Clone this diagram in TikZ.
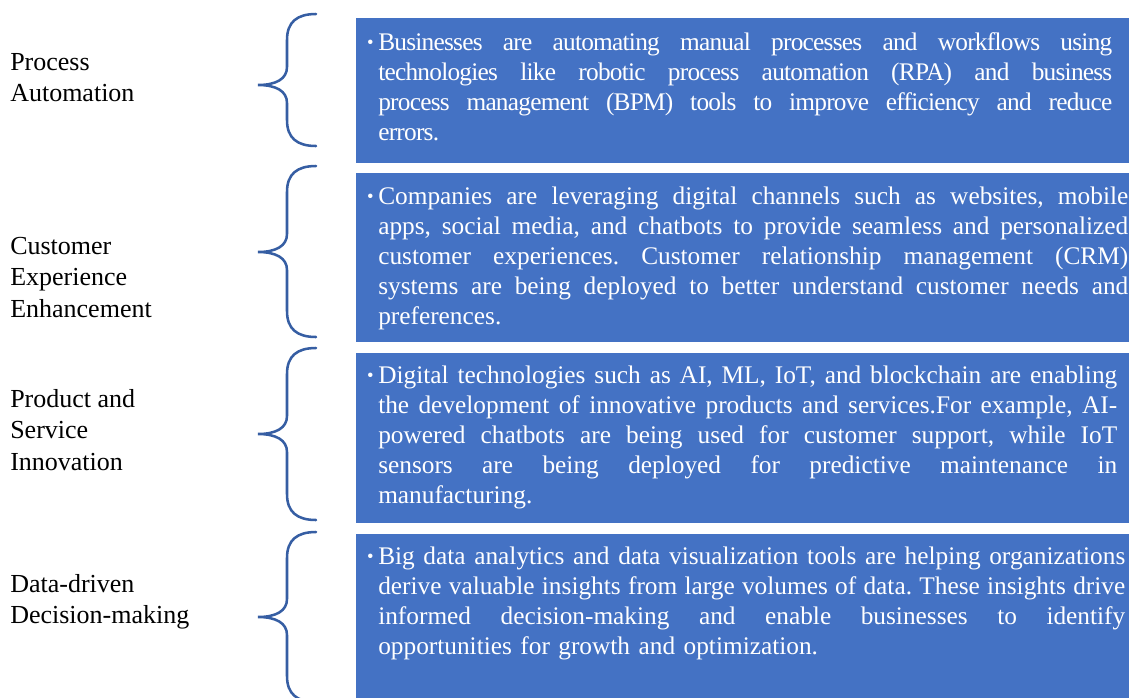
\documentclass[tikz,border=0pt]{standalone}
\usepackage{fontspec}
\setmainfont{Liberation Serif}
\newfontfamily\serree[LetterSpace=-3]{Liberation Serif}

\definecolor{bleucadre}{HTML}{4472C4}
\definecolor{bleuaccol}{RGB}{54,94,163}

\tikzset{
  cadre/.style={fill=bleucadre},
  accol/.style={draw=bleuaccol, line width=1.9pt, line cap=round},
  etiq/.style={anchor=north west, inner sep=0pt, align=left,
    font=\fontsize{19.5}{23.6}\selectfont},
  texte/.style={anchor=north west, inner sep=0pt, text=white,
    text width=#1, execute at begin node={\def\largeur{#1}},
    font=\fontsize{19}{22.5}\selectfont\frenchspacing},
  serre/.style={font=\serree\fontsize{19}{22.5}\selectfont\frenchspacing}
}

\def\ligne#1{\leavevmode\hbox to \largeur{\spaceskip=\fontdimen2\font plus 1fil\relax #1}\par}
\def\puce{\llap{\raisebox{1.5pt}{\fontsize{14}{14}\selectfont\textbullet}\hspace{3.5pt}}}

\begin{document}
\begin{tikzpicture}[x=0.75pt, y=-0.75pt]
\useasboundingbox (0,0) rectangle (1129,697);

% Cadres bleus
\fill[cadre] (356,18) rectangle (1135,163);
\fill[cadre] (356,173) rectangle (1135,342);
\fill[cadre] (356,353) rectangle (1135,523);
\fill[cadre] (356,534) rectangle (1135,705);

% Accolades
\def\accolade#1#2#3{%
  \draw[accol] (316,#1) .. controls (297,#1) and (287,#1+8) .. (287,#1+26)
    -- (287,#2-18) .. controls (287,#2-6) and (276,#2) .. (258,#2)
    .. controls (276,#2) and (287,#2+6) .. (287,#2+18)
    -- (287,#3-26) .. controls (287,#3-8) and (297,#3) .. (316,#3);}
\accolade{14}{85}{146}
\accolade{166}{252}{337}
\accolade{348}{434}{520}
\accolade{532}{617}{702}

% Etiquettes
\node[etiq] (lab1) at (10,48) {\strut Process\\Automation};
\node[etiq] (lab2) at (10,232) {\strut Customer\\Experience\\Enhancement};
\node[etiq] (lab3) at (10,385) {\strut Product and\\Service\\Innovation};
\node[etiq] (lab4) at (10,570) {\strut Data-driven\\Decision-making};

% Textes
\node[texte=550.5pt, serre] (box1) at (378,29) {\strut\puce
  \ligne{Businesses are automating manual processes and workflows using}
  \ligne{technologies like robotic process automation (RPA) and business}
  \ligne{process management (BPM) tools to improve efficiency and reduce}
  errors.};
\node[texte=562.5pt] (box2) at (378,183) {\strut\puce
  \ligne{Companies are leveraging digital channels such as websites, mobile}
  \ligne{apps, social media, and chatbots to provide seamless and personalized}
  \ligne{customer experiences. Customer relationship management (CRM)}
  \ligne{systems are being deployed to better understand customer needs and}
  preferences.};
\node[texte=554.25pt] (box3) at (378,362) {\strut\puce
  \ligne{Digital technologies such as AI, ML, IoT, and blockchain are enabling}
  \ligne{the development of innovative products and services.For example, AI-}
  \ligne{powered chatbots are being used for customer support, while IoT}
  \ligne{sensors are being deployed for predictive maintenance in}
  manufacturing.};
\node[texte=560.25pt] (box4) at (378,543) {\strut\puce
  \ligne{Big data analytics and data visualization tools are helping organizations}
  \ligne{derive valuable insights from large volumes of data. These insights drive}
  \ligne{informed decision-making and enable businesses to identify}
  opportunities for growth and optimization.};
\end{tikzpicture}
\end{document}
